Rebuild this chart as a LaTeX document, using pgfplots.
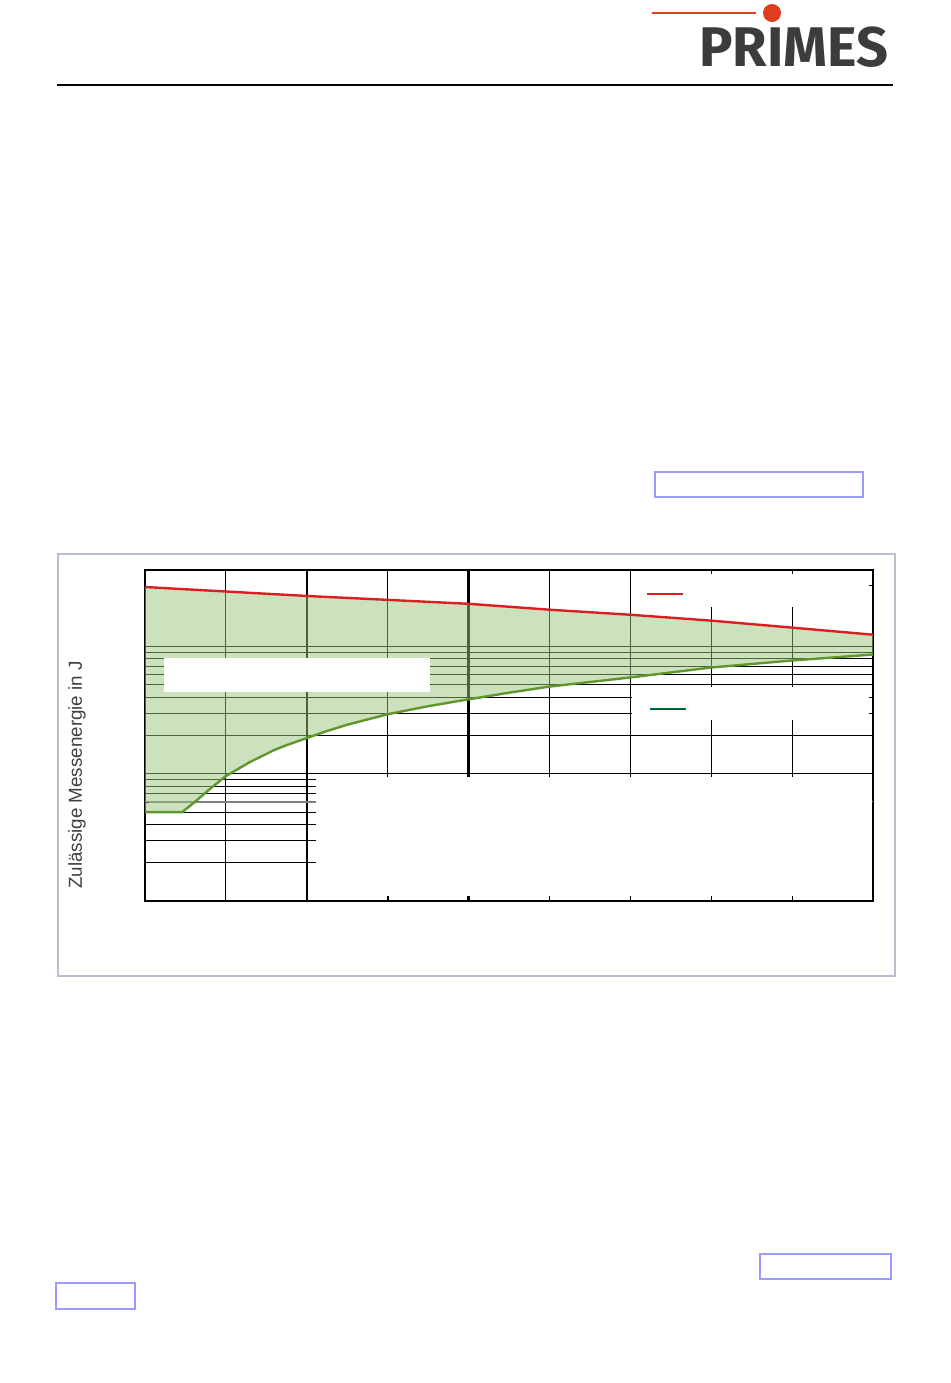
\documentclass[border=0pt]{standalone}
\usepackage{pgfplots}
\pgfplotsset{compat=1.18}
\usepackage{fontspec}
\setmainfont{Liberation Sans}
\newfontfamily\logofont{Fira Sans}
\definecolor{fillgreen}{RGB}{153,199,125}
\definecolor{curvegreen}{RGB}{95,150,45}
\definecolor{leggreen}{RGB}{0,100,50}
\definecolor{curvered}{RGB}{220,30,35}
\definecolor{logored}{RGB}{224,60,30}
\definecolor{logogray}{RGB}{60,60,60}
\definecolor{linkblue}{RGB}{155,155,255}
\definecolor{framegray}{RGB}{184,192,208}
\begin{document}
\begin{tikzpicture}
\begin{scope}[x=0.5pt,y=0.5pt]
\fill[white] (0,0) rectangle (950,-1383);
% header
\draw[logored, line width=1pt] (652,-13) -- (756,-13);
\fill[logored] (772,-13) circle[radius=4.5pt];
\node[anchor=south west, inner sep=0, text=logogray] at (699,-68) {\resizebox{94.5pt}{!}{\logofont\bfseries PRIMES}};
\draw[black, line width=0.6pt] (57,-85) -- (893,-85);
% link boxes
\draw[linkblue, line width=1pt] (655,-472) rectangle (863,-497);
\draw[linkblue, line width=1pt] (760,-1254) rectangle (891,-1279);
\draw[linkblue, line width=1pt] (56,-1283) rectangle (135,-1309);
% chart frame
\draw[framegray, line width=1pt] (58,-554) rectangle (895,-976);
\end{scope}
\begin{axis}[
  at={(72.5pt,-450.5pt)}, anchor=south west,
  scale only axis, width=364pt, height=165.5pt,
  xmin=0, xmax=9, ymode=log, ymin=0.1, ymax=40,
  xtick={0,...,9}, ytick={0.1,1,10},
  xticklabels={}, yticklabels={},
  xmajorgrids, ymajorgrids, yminorgrids,
  grid style={black, line width=0.5pt},
  minor grid style={black, line width=0.5pt},
  major tick length=2pt, minor tick length=2pt,
  tick style={black, line width=0.5pt},
  axis line style={black, line width=1pt},
  extra x ticks={2,4}, extra x tick labels={},
  extra x tick style={grid style={black, line width=1.1pt}},
  extra y ticks={0.6}, extra y tick labels={},
  extra y tick style={grid style={gray, line width=1.1pt}},
]
\addplot[fill=fillgreen, fill opacity=0.5, draw=none] coordinates {
  (0,29.4) (2,25.0) (3,23.3) (4,21.7) (5,19.5) (6,17.8) (7,16.0) (8,14.1) (9,12.4)
  (9,8.66) (8,7.78) (7,6.85) (6,5.72) (5,4.85) (4.5,4.34) (4,3.85) (3.5,3.40) (3,2.94) (2.5,2.43) (2.25,2.17) (2,1.91)
  (1.75,1.68) (1.6,1.54) (1.3,1.24) (1.0,0.96) (0.8,0.758) (0.62,0.604) (0.46,0.5) (0,0.5)
} -- cycle;
\addplot[curvered, line width=1.2pt] coordinates {
  (0,29.4) (2,25.0) (3,23.3) (4,21.7) (5,19.5) (6,17.8) (7,16.0) (8,14.1) (9,12.4)
};
\addplot[curvegreen, line width=1.2pt] coordinates {
  (0,0.5) (0.46,0.5) (0.62,0.604) (0.8,0.758) (1.0,0.96) (1.3,1.24) (1.6,1.54) (1.75,1.68) (2,1.91)
  (2.25,2.17) (2.5,2.43) (3,2.94) (3.5,3.40) (4,3.85) (4.5,4.34) (5,4.85) (6,5.72) (7,6.85) (8,7.78) (9,8.66)
};
\end{axis}
\begin{scope}[x=0.5pt,y=0.5pt]
% white masks over the grid (hidden texts)
\fill[white] (164,-658) rectangle (430,-692);
\fill[white] (316,-777) rectangle (872,-896);
\fill[white] (632,-572) rectangle (870,-607);
\fill[white] (632,-687) rectangle (870,-720);
% ticks visible at the edges of masks
\foreach \xx in {388,549,630,711,792} {\draw[black, line width=0.5pt] (\xx,-896) -- (\xx,-901);}
\draw[black, line width=1.1pt] (469,-896) -- (469,-901);
\foreach \xx in {711,792} {\draw[black, line width=0.5pt] (\xx,-570) -- (\xx,-574);}
\draw[black, line width=0.5pt] (869,-585) -- (873,-585);
\draw[black, line width=0.5pt] (869,-697) -- (873,-697);
\draw[black, line width=0.5pt] (869,-713) -- (873,-713);
% legend samples
\draw[curvered, line width=1pt] (647,-594) -- (683,-594);
\draw[leggreen, line width=1pt] (650,-709) -- (686,-709);
% y label
\node[rotate=90, text=black!75, font=\fontsize{9.4}{11}\selectfont] at (77,-775) {Zulässige Messenergie in J};
\end{scope}
\end{tikzpicture}
\end{document}
